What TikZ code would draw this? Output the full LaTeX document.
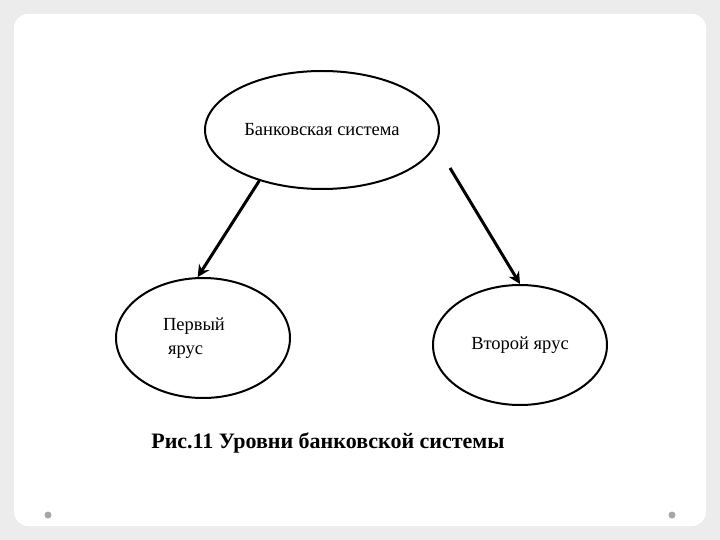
\documentclass[tikz,border=0pt]{standalone}
\usepackage{fontspec}
\setmainfont{Liberation Serif}
\usetikzlibrary{shapes.geometric,arrows.meta}
\begin{document}
\begin{tikzpicture}[x=1pt,y=-1pt,
  oval/.style={ellipse,draw,line width=2pt,inner sep=0pt,font=\fontsize{18.5}{24}\selectfont,align=center},
  conn/.style={line width=3pt,-{Stealth[length=12pt,width=12pt,inset=4pt]}}]
\fill[gray!15] (0,0) rectangle (720,540);
\fill[white] (14,14) [rounded corners=14pt] rectangle (706,526);
\useasboundingbox (0,0) rectangle (720,540);
\node[oval,minimum width=234pt,minimum height=118pt] (top) at (322,130) {\raisebox{0pt}[0pt][0pt]{}Банковская система};
\node[oval,minimum width=174pt,minimum height=120pt,text width=90pt,align=left] (left) at (203,338) {\hspace*{5pt}Первый\\[-0pt]\hspace*{10pt}ярус};
\node[oval,minimum width=174pt,minimum height=120pt] (right) at (520,345) {Второй ярус};
\coordinate (s2) at (450,168);
\draw[conn] (top.219) -- (left.95);
\draw[conn] (s2) -- (right.90);
\node[font=\fontsize{22}{24}\selectfont\bfseries] (cap) at (328,443) {Рис.11 Уровни банковской системы};
\fill[gray!70] (48,515) circle (3.5pt) coordinate (d1);
\fill[gray!70] (672,515) circle (3.5pt) coordinate (d2);
\end{tikzpicture}
\end{document}
